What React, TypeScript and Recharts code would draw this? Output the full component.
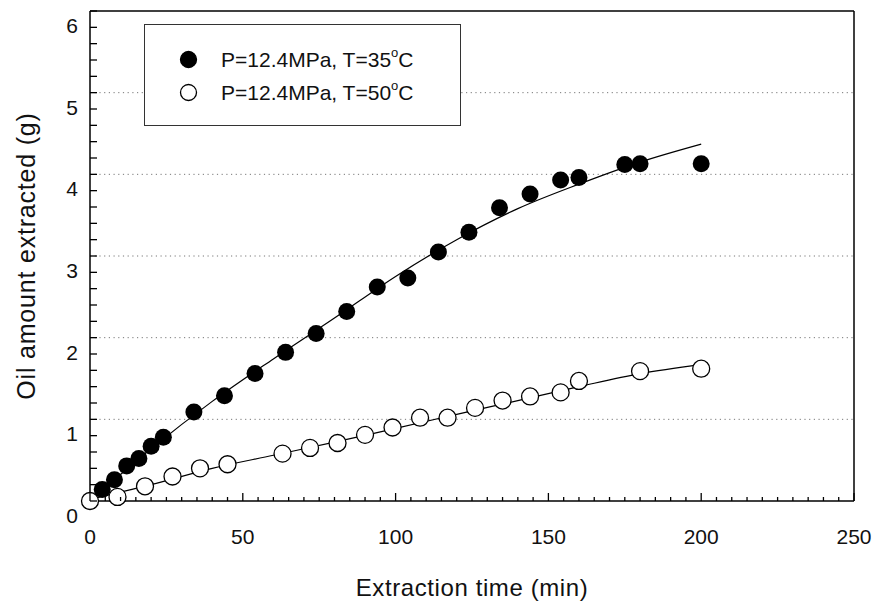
import React from "react";
import {
  ComposedChart,
  XAxis,
  YAxis,
  Scatter,
  Line,
  ReferenceLine,
  Legend,
} from "recharts";

// measured points, P=12.4MPa T=35C (filled)
const filledT = [4, 8, 12, 16, 20, 24, 34, 44, 54, 64, 74, 84, 94, 104, 114, 124, 134, 144, 154, 160, 175, 180, 200];
const filledV = [0.14, 0.26, 0.43, 0.52, 0.67, 0.78, 1.09, 1.29, 1.56, 1.82, 2.05, 2.32, 2.62, 2.73, 3.05, 3.29, 3.59, 3.76, 3.93, 3.96, 4.12, 4.13, 4.13];

// measured points, P=12.4MPa T=50C (open)
const openT = [0, 9, 18, 27, 36, 45, 63, 72, 81, 90, 99, 108, 117, 126, 135, 144, 154, 160, 180, 200];
const openV = [0.0, 0.05, 0.18, 0.3, 0.4, 0.45, 0.58, 0.65, 0.71, 0.81, 0.9, 1.02, 1.02, 1.14, 1.23, 1.28, 1.33, 1.47, 1.59, 1.62];

// fitted curves
const fitT = [0, 20, 40, 60, 80, 100, 120, 140, 160, 180, 200];
const fitFilledV = [0.0, 0.64, 1.22, 1.74, 2.24, 2.75, 3.2, 3.58, 3.88, 4.15, 4.37];
const fitOpenV = [0.02, 0.2, 0.4, 0.56, 0.72, 0.89, 1.06, 1.23, 1.4, 1.56, 1.67];

const xLabels = [0, 50, 100, 150, 200, 250];
const yLabels = [0, 1, 2, 3, 4, 5, 6];
const gridLines = [1, 2, 3, 4, 5];
const legendNames = ["P=12.4MPa, T=35", "P=12.4MPa, T=50"];

const xTicks = Array.from({ length: 51 }, (_, i) => i * 5);
const yTicks = Array.from({ length: 31 }, (_, i) => i / 5);

const toRows = (ts: number[], vs: number[]) => ts.map((t, i) => ({ t, v: vs[i] }));
const filled = toRows(filledT, filledV);
const open = toRows(openT, openV);
const fitFilled = toRows(fitT, fitFilledV);
const fitOpen = toRows(fitT, fitOpenV);

const FONT = '"Liberation Sans", Arial, sans-serif';

const XTick = (p: any) => {
  const v = p.payload.value;
  const major = xLabels.includes(v);
  return (
    <g>
      <line x1={p.x} x2={p.x} y1={p.y} y2={p.y - (major ? 8 : 4)} stroke="#000" strokeWidth={1.3} />
      {major && (
        <text x={p.x} y={p.y + 43} textAnchor="middle" fontSize={21} fontFamily={FONT} fill="#111">
          {v}
        </text>
      )}
    </g>
  );
};

const YTick = (p: any) => {
  const v = p.payload.value;
  const isLabel = Math.abs(v - Math.round(v)) < 1e-6 && yLabels.includes(Math.round(v));
  return (
    <g>
      <line x1={p.x} x2={p.x + 7} y1={p.y} y2={p.y} stroke="#000" strokeWidth={1.3} />
      {isLabel && (
        <text x={p.x - 12} y={p.y + 22} textAnchor="end" fontSize={21} fontFamily={FONT} fill="#111">
          {Math.round(v)}
        </text>
      )}
    </g>
  );
};

const XTitle = () => (
  <text x={472} y={596} textAnchor="middle" fontSize={24} fontFamily={FONT} fill="#111" letterSpacing={0.6}>
    Extraction time (min)
  </text>
);

const YTitle = () => (
  <text
    transform="translate(26,256) rotate(-90)"
    textAnchor="middle"
    dominantBaseline="central"
    fontSize={25}
    fontFamily={FONT}
    fill="#111"
    letterSpacing={0.8}
  >
    Oil amount extracted (g)
  </text>
);

const LegendBox = () => (
  <div style={{ width: 317, height: 102, border: "1.5px solid #333", boxSizing: "border-box", background: "#fff" }}>
    <svg width={314} height={99}>
      {legendNames.map((name, i) => {
        const cy = 34.5 + i * 33;
        return (
          <g key={name}>
            <circle cx={43.5} cy={cy} r={8} fill={i === 0 ? "#000" : "#fff"} stroke="#000" strokeWidth={1.3} />
            <text x={76} y={cy + 7.5} fontSize={21} fontFamily={FONT} fill="#111">
              {name}
              <tspan dy={-10} fontSize={13}>o</tspan>
              <tspan dy={10}>C</tspan>
            </text>
          </g>
        );
      })}
    </svg>
  </div>
);

export default function App() {
  return (
    <div style={{ position: "absolute", left: 0, top: 0, background: "#fff" }}>
      <ComposedChart width={877} height={602} margin={{ top: 0, right: 0, bottom: 0, left: 0 }}>
        <XAxis
          type="number"
          dataKey="t"
          domain={[0, 250]}
          ticks={xTicks}
          interval={0}
          tick={<XTick />}
          tickLine={false}
          tickSize={0}
          tickMargin={0}
          height={101}
          axisLine={{ stroke: "#000", strokeWidth: 1.5 }}
          label={XTitle}
          allowDecimals={false}
        />
        <XAxis xAxisId="top" orientation="top" type="number" domain={[0, 250]} height={11} tick={false} tickLine={false} axisLine={{ stroke: "#000", strokeWidth: 1.5 }} />
        <YAxis
          type="number"
          dataKey="v"
          domain={[0, 6]}
          ticks={yTicks}
          interval={0}
          tick={<YTick />}
          tickLine={false}
          tickSize={0}
          tickMargin={0}
          width={90}
          axisLine={{ stroke: "#000", strokeWidth: 1.5 }}
          label={YTitle}
        />
        <YAxis yAxisId="right" orientation="right" type="number" domain={[0, 6]} width={23} tick={false} tickLine={false} axisLine={{ stroke: "#000", strokeWidth: 1.5 }} />
        {gridLines.map((g) => (
          <ReferenceLine key={g} y={g} stroke="#777" strokeWidth={1} strokeDasharray="1.2 3.5" />
        ))}
        <Legend
          layout="horizontal"
          verticalAlign="middle"
          align="center"
          content={<LegendBox />}
          wrapperStyle={{ left: 144, top: 24, width: 317, height: 102, margin: 0 }}
        />
        <Line data={fitFilled} dataKey="v" type="monotone" stroke="#000" strokeWidth={1.2} dot={false} activeDot={false} isAnimationActive={false} />
        <Line data={fitOpen} dataKey="v" type="monotone" stroke="#000" strokeWidth={1.2} dot={false} activeDot={false} isAnimationActive={false} />
        <Scatter
          data={filled}
          dataKey="v"
          isAnimationActive={false}
          shape={(p: any) => <circle cx={p.cx} cy={p.cy} r={8.5} fill="#000" />}
        />
        <Scatter
          data={open}
          dataKey="v"
          isAnimationActive={false}
          shape={(p: any) => <circle cx={p.cx} cy={p.cy} r={8.5} fill="#fff" stroke="#000" strokeWidth={1.3} />}
        />
      </ComposedChart>
    </div>
  );
}
